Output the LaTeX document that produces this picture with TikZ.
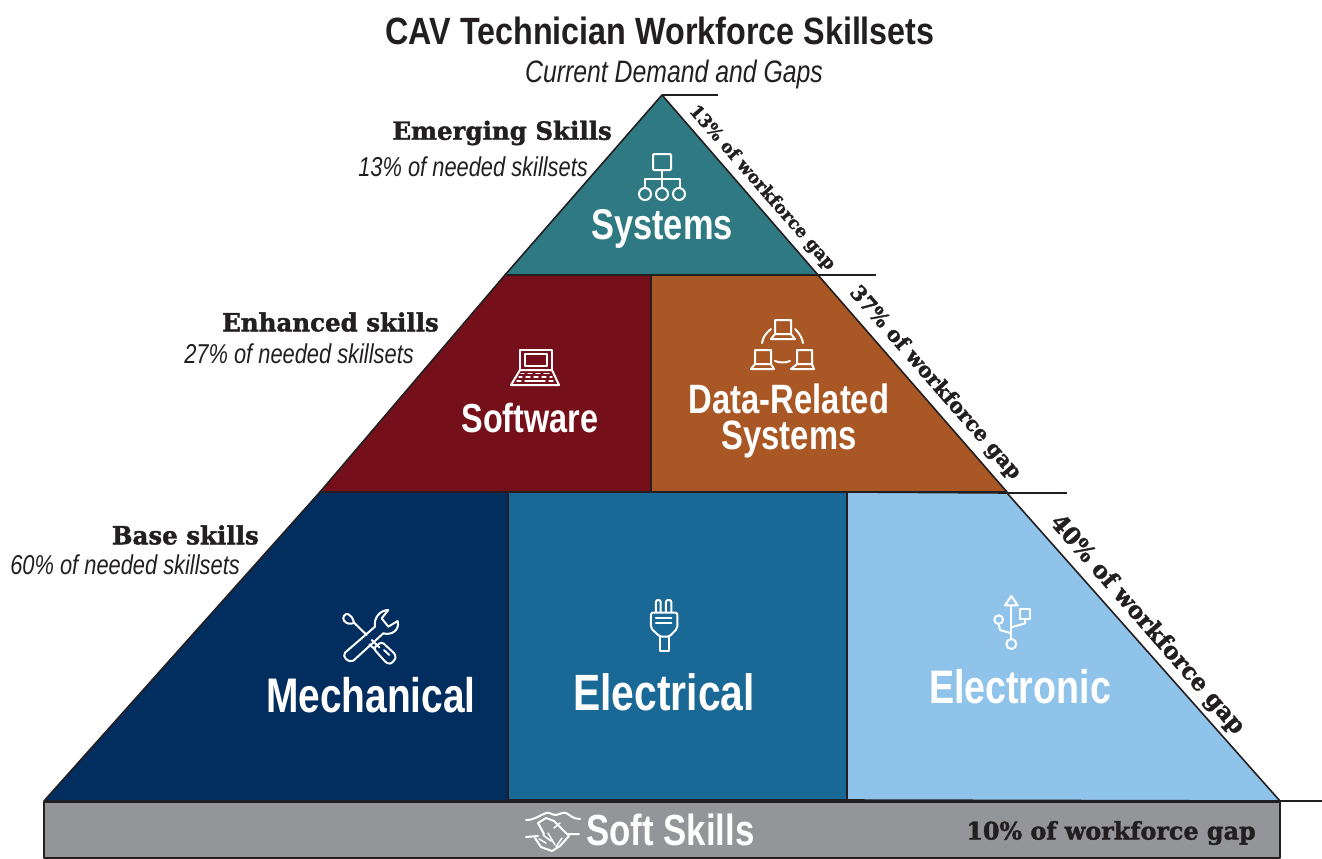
\documentclass[tikz,border=0pt]{standalone}
\usepackage{fontspec}
\setmainfont{Liberation Sans}
\newfontfamily\condb[FakeStretch=.85]{Liberation Sans Bold}
\newfontfamily\condbb[FakeStretch=.80]{Liberation Sans Bold}
\newfontfamily\condi[FakeStretch=.80]{Liberation Sans Italic}
\newfontfamily\slab[FakeStretch=.98,FakeBold=1.6]{DejaVu Serif Bold}
\definecolor{inkc}{HTML}{231F20}
\definecolor{tealc}{HTML}{2F7A82}
\definecolor{maroonc}{HTML}{75101A}
\definecolor{orangec}{HTML}{A85725}
\definecolor{navyc}{HTML}{022D5F}
\definecolor{midc}{HTML}{1A6895}
\definecolor{lightc}{HTML}{8FC3EA}
\definecolor{grayc}{HTML}{939598}
\tikzset{
  x=1pt,y=-1pt,
  block/.style={draw=inkc,line width=1.6pt,line join=round},
  tick/.style={draw=inkc,line width=1.4pt},
  icon/.style={draw=white,line width=2pt,line cap=round,line join=round},
  title/.style={inner sep=0pt,text=inkc,font=\condb\fontsize{38}{42}\selectfont},
  sub/.style={inner sep=0pt,text=inkc,font=\condi\fontsize{31}{34}\selectfont},
  level/.style={inner sep=0pt,text=inkc,anchor=east,font=\slab\fontsize{25}{28}\selectfont},
  share/.style={inner sep=0pt,text=inkc,anchor=east,font=\condi\fontsize{27.3}{30}\selectfont},
  big/.style={inner sep=0pt,text=white,align=center,font=\condbb\fontsize{41}{36}\selectfont},
  huge/.style={inner sep=0pt,text=white,font=\condbb\fontsize{47}{50}\selectfont},
  gap/.style={inner sep=0pt,text=inkc,rotate=-48.8},
}
\begin{document}
\begin{tikzpicture}
\useasboundingbox (0,0) rectangle (1322,859);
\fill[white] (0,0) rectangle (1322,859);
% blocks
\path[block,fill=grayc] (44,802) rectangle (1280,858);
\path[block,fill=navyc] (320,492) -- (508,492) -- (508,801) -- (44,801) -- cycle;
\path[block,fill=midc] (508,492) -- (847,492) -- (847,800) -- (508,800) -- cycle;
\path[block,fill=lightc] (847,492) -- (1007,493) -- (1280,801) -- (847,800) -- cycle;
\path[block,fill=maroonc] (505,275) -- (651,275) -- (651,492) -- (320,492) -- cycle;
\path[block,fill=orangec] (651,275) -- (818,275) -- (1007,492) -- (651,492) -- cycle;
\path[block,fill=tealc] (662,95) -- (818,275) -- (505,275) -- cycle;
% ticks
\coordinate (t0) at (662,95); \coordinate (t0e) at (718,95);
\coordinate (t1) at (818,275); \coordinate (t1e) at (876,275);
\coordinate (t2) at (1007,493); \coordinate (t2e) at (1067,493);
\coordinate (t3) at (1280,801); \coordinate (t3e) at (1322,801);
\draw[tick] (t0) -- (t0e);
\draw[tick] (t1) -- (t1e);
\draw[tick] (t2) -- (t2e);
\draw[tick] (t3) -- (t3e);
% titles
\node[title] (ttl) at (660,31) {CAV Technician Workforce Skillsets};
\node[sub] (stl) at (674,74) {Current Demand and Gaps};
\node[level] (l1) at (612,133) {Emerging Skills};
\node[share] (s1) at (588,167) {13\% of needed skillsets};
\node[level] (l2) at (439,322) {Enhanced skills};
\node[share] (s2) at (414,354) {27\% of needed skillsets};
\node[level] (l3) at (259,535) {Base skills};
\node[share] (s3) at (240,565) {60\% of needed skillsets};
% block labels
\node[big,font=\condbb\fontsize{43}{46}\selectfont] (n1) at (662,229) {Systems};
\node[big,font=\condbb\fontsize{40.5}{44}\selectfont] (n2) at (530,418) {Software};
\node[big] (n3) at (789,421) {Data-Related\\Systems};
\node[huge,font=\condbb\fontsize{48.6}{52}\selectfont] (n4) at (371,695) {Mechanical};
\node[huge,font=\condbb\fontsize{51}{54}\selectfont] (n5) at (664,692) {Electrical};
\node[huge] (n6) at (1020,687) {Electronic};
\node[big,anchor=west,font=\condbb\fontsize{43.5}{46}\selectfont] (n7) at (586,830) {Soft Skills};
\node[inner sep=0pt,text=inkc,font=\slab\fontsize{24.3}{26}\selectfont] (g4) at (1111,833) {10\% of workforce gap};
% gap labels
\node[gap,font=\slab\fontsize{17.8}{20}\selectfont] (g1) at (762,188) {13\% of workforce gap};
\node[gap,font=\slab\fontsize{20.9}{24}\selectfont] (g2) at (935,383) {37\% of workforce gap};
\node[gap,font=\slab\fontsize{23.7}{28}\selectfont] (g3) at (1147,625) {40\% of workforce gap};
% systems icon
\draw[icon,rounded corners=1pt] (653,154) rectangle (671,170);
\draw[icon] (662,170) -- (662,188) (645,188) -- (645,179) -- (680,179) -- (680,188);
\draw[icon] (645,194) circle[radius=6] (662,194) circle[radius=6] (679,194) circle[radius=6];
% laptop icon
\draw[icon] (520,370) -- (520,350) -- (552,350) -- (552,370);
\draw[icon,line width=1.4pt] (525,354) rectangle (547,366);
\draw[icon] (520,370) -- (511,385) -- (559,385) -- (552,370) -- cycle;
\draw[icon,line width=1.4pt] (521,373.5) -- (524,373.5) (528,373.5) -- (532,373.5) (536,373.5) -- (540,373.5) (544,373.5) -- (549,373.5)
  (519,377) -- (522,377) (526,377) -- (530,377) (534,377) -- (538,377) (542,377) -- (546,377) (550,377) -- (552,377)
  (517,381) -- (521,381) (525,381) -- (545,381) (549,381) -- (553,381);
% data icon
\draw[icon] (775,334) -- (775,320) -- (791,320) -- (791,334) (775,334) -- (771,339) -- (795,339) -- (791,334) -- cycle;
\draw[icon] (755,364) -- (755,350) -- (771,350) -- (771,364) (755,364) -- (751,369) -- (774,369) -- (771,364) -- cycle;
\draw[icon] (797,364) -- (797,350) -- (812,350) -- (812,364) (797,364) -- (791,369) -- (814,369) -- (812,364) -- cycle;
\draw[icon] (762,343) .. controls (763,337) and (766,333) .. (771,329);
\draw[icon] (803,343) .. controls (802,337) and (799,333) .. (795,329);
\draw[icon] (775,361) .. controls (780,363) and (785,363) .. (790,361);
% tools icon
\begin{scope}[shift={(330,590)},x=.3333pt,y=-.3333pt]
\draw[icon] (45,188) -- (135,110) .. controls (130,85) and (150,60) .. (175,60) -- (155,85) -- (175,110) -- (203,93) .. controls (210,120) and (185,137) .. (160,130) -- (70,212) .. controls (55,220) and (35,200) .. (45,188) -- cycle;
\draw[icon] (110,135) -- (72,98) .. controls (62,104) and (50,102) .. (42,92) .. controls (36,82) and (44,70) .. (54,72) .. controls (62,76) and (68,82) .. (72,98);
\draw[icon] (125,150) -- (148,172) (118,163) -- (135,178);
\draw[icon,rounded corners=3pt] (130,175) -- (155,155) -- (198,195) .. controls (195,210) and (185,220) .. (172,222) -- cycle;
\draw[icon] (162,180) -- (178,195);
% plug icon
\draw[icon,rounded corners=2pt] (978,66) -- (978,30) -- (992,30) -- (992,66) (1008,66) -- (1008,30) -- (1024,30) -- (1024,66);
\draw[icon,rounded corners=2pt] (963,68) -- (1042,68) -- (1042,115) -- (1018,140) -- (990,140) -- (963,115) -- cycle;
\draw[icon] (978,85) -- (1024,85) (978,98) -- (1024,98);
\draw[icon] (990,140) -- (990,184) -- (1016,184) -- (1016,140);
\end{scope}
% usb icon
\begin{scope}[shift={(970,580)},x=.3333pt,y=-.3333pt]
\draw[icon] (105,76) -- (143,76) -- (124,48) -- cycle;
\draw[icon] (124,76) -- (124,178);
\draw[icon] (124,192) circle[radius=15];
\draw[icon] (86,119) circle[radius=13];
\draw[icon] (86,132) -- (90,150) -- (124,160);
\draw[icon] (150,88) rectangle (180,118);
\draw[icon] (165,118) -- (165,130) -- (124,142);
\end{scope}
% handshake icon
\draw[icon] (526,820) .. controls (535,820) and (540,815) .. (546,813) .. controls (550,812) and (552,815) .. (556,815) .. controls (560,814) and (563,812) .. (566,813) .. controls (570,815) and (573,819) .. (580,819);
\draw[icon] (526,837) -- (538,836) (568,834) -- (579,834);
\draw[icon] (546,818) -- (538,823) -- (544,834) (546,818) -- (554,821) -- (569,836) -- (560,846) -- (552,851) -- (541,847) -- (535,838);
\draw[icon,line width=1.5pt] (539,839) -- (546,843) (543,835) -- (551,841) (548,833) -- (555,845) (562,838) -- (556,847) (554,828) -- (560,823);
\end{tikzpicture}
\end{document}
